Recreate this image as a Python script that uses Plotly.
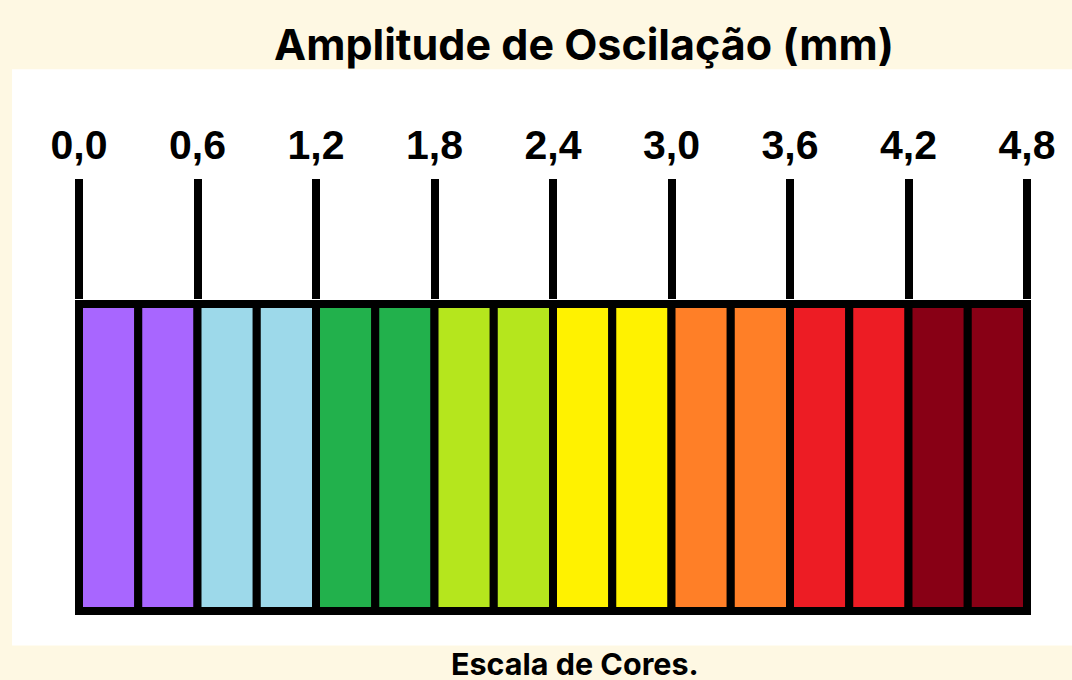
import plotly.graph_objects as go

# escala de amplitude (mm) - cada faixa de cor cobre 0,3 mm
tick_vals = [0.0, 0.6, 1.2, 1.8, 2.4, 3.0, 3.6, 4.2, 4.8]
tick_text = ["0,0", "0,6", "1,2", "1,8", "2,4", "3,0", "3,6", "4,2", "4,8"]
cell_start = [0.0, 0.3, 0.6, 0.9, 1.2, 1.5, 1.8, 2.1, 2.4, 2.7, 3.0, 3.3, 3.6, 3.9, 4.2, 4.5]
cell_width = 0.3
cell_colors = [
    "#A866FF", "#A866FF", "#9DD9EA", "#9DD9EA",
    "#22B14C", "#22B14C", "#B5E61D", "#B5E61D",
    "#FFF200", "#FFF200", "#FF7F27", "#FF7F27",
    "#ED1C24", "#ED1C24", "#880015", "#880015",
]

W, H = 1072, 680
border = 8
# area do grafico (inclui a borda preta inteira, para nao ser cortada)
left, right = 75, 1031.5
top, bottom = 300, 615.5
pw, ph = right - left, bottom - top
dx = (border / 2) * 4.8 / (pw - border)
dy = (border / 2) / (ph - border)


def px_x(px):
    return (px - left) / pw


def px_y(py):
    return (bottom - py) / ph


fig = go.Figure(
    go.Bar(
        x=[s + cell_width / 2 for s in cell_start],
        y=[1] * len(cell_start),
        width=cell_width,
        marker=dict(color=cell_colors, line=dict(color="black", width=border)),
        hoverinfo="skip",
    )
)

fig.update_layout(
    width=W,
    height=H,
    margin=dict(l=left, r=W - right, t=top, b=H - bottom, pad=0),
    paper_bgcolor="#FEF8E3",
    plot_bgcolor="rgba(0,0,0,0)",
    showlegend=False,
    title=dict(
        text="<b>Amplitude de Oscilação (mm)</b>",
        font=dict(family="Inter", size=43, color="black"),
        x=584 / W, xref="container", xanchor="center",
        y=1 - 45 / H, yref="container", yanchor="middle",
    ),
    shapes=[
        dict(type="rect", xref="paper", yref="paper",
             x0=px_x(12), x1=px_x(1080), y0=px_y(646), y1=px_y(69),
             fillcolor="white", line_width=0, layer="below"),
    ],
    annotations=[
        dict(text="<b>Escala de Cores.</b>", xref="paper", yref="paper",
             x=px_x(575), y=px_y(664), showarrow=False,
             xanchor="center", yanchor="middle",
             font=dict(family="Inter", size=30.5, color="black")),
    ],
)

fig.update_xaxes(
    range=[-dx, 4.8 + dx], side="top", showgrid=False, zeroline=False,
    showline=False, tickmode="array", tickvals=tick_vals, ticktext=tick_text,
    ticks="outside", ticklen=120, tickwidth=border, tickcolor="black",
    ticklabelstandoff=4,
    tickfont=dict(family="Liberation Sans", size=41, color="black", weight=700),
    fixedrange=True,
)
fig.update_yaxes(range=[-dy, 1 + dy], visible=False, fixedrange=True)

fig.write_html("out.html", config={"displayModeBar": False},
               post_script="document.body.style.margin='0';")
